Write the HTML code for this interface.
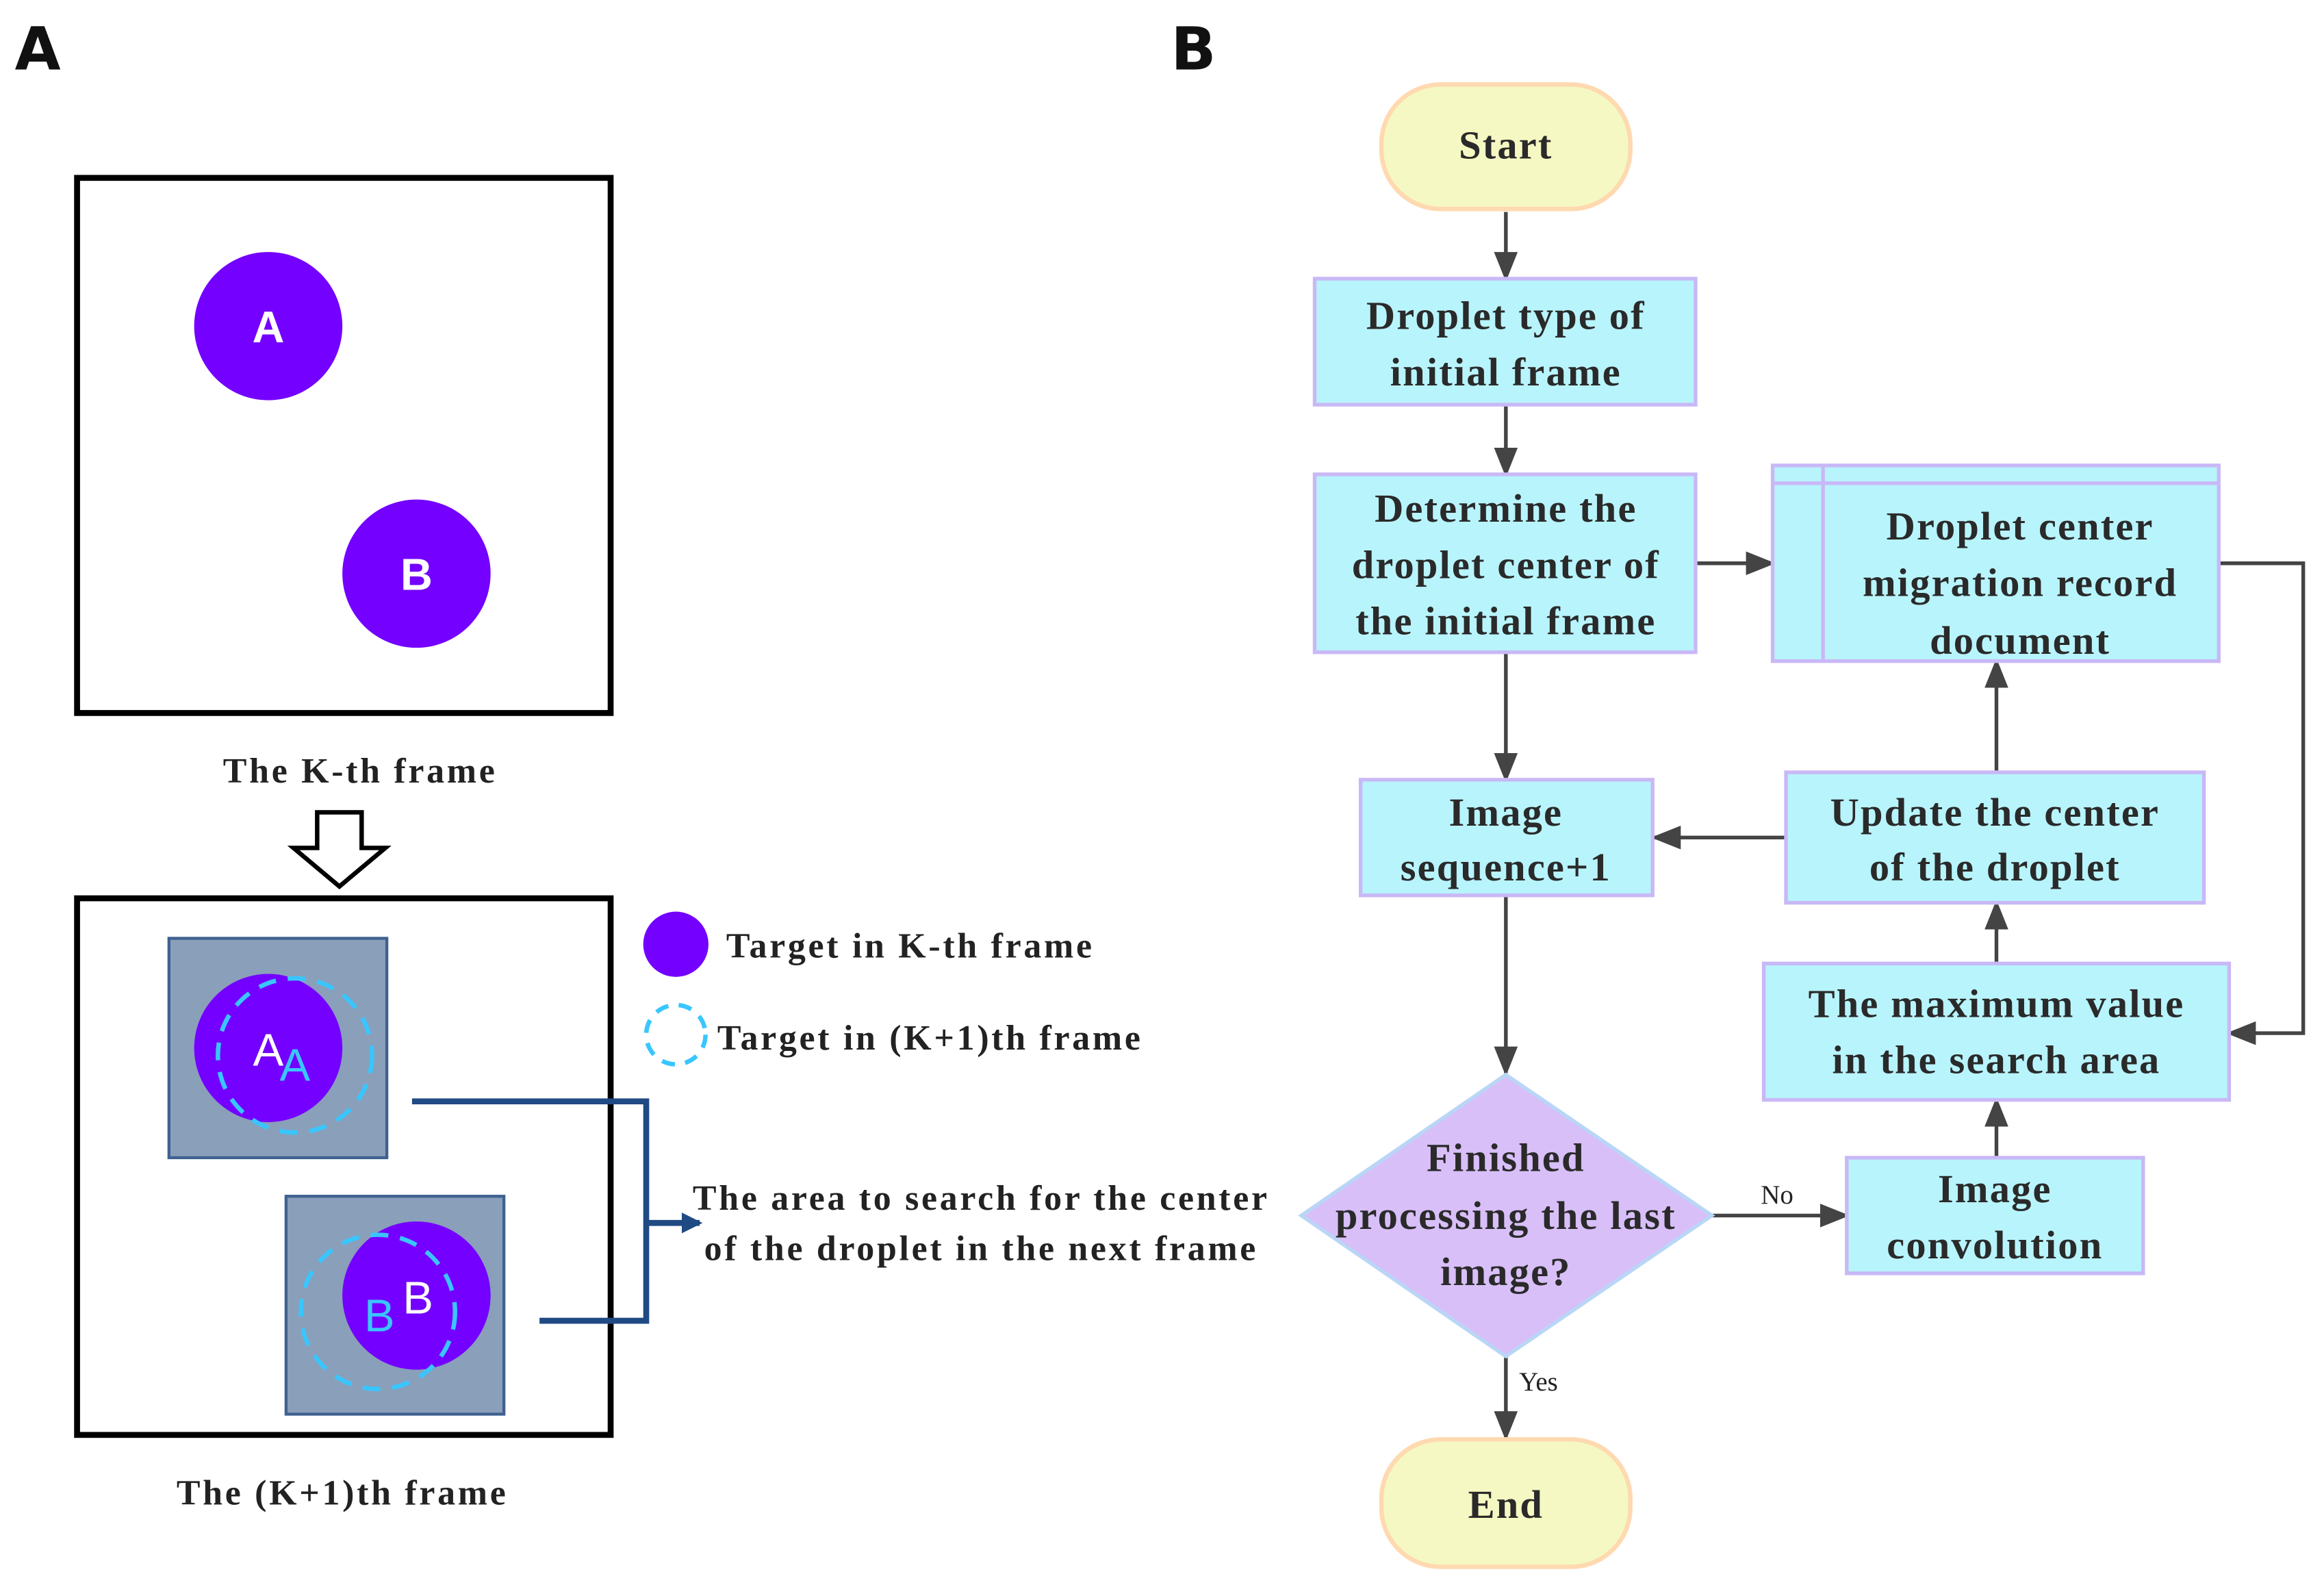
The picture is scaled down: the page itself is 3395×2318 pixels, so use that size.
<!DOCTYPE html>
<html><head><meta charset="utf-8"><style>
html,body{margin:0;padding:0;background:#fff;}
svg{display:block;}
.s{font-family:"Liberation Serif",serif;font-weight:bold;fill:#222;letter-spacing:1.7px;}
.f{font-family:"Liberation Serif",serif;font-weight:bold;fill:#2a2a2a;font-size:27px;letter-spacing:1px;}
.l{font-family:"Liberation Sans",sans-serif;font-weight:bold;}
.n{font-family:"Liberation Sans",sans-serif;}
</style></head><body>
<svg width="3395" height="2318" viewBox="0 0 1568 1070.6" preserveAspectRatio="none" xmlns="http://www.w3.org/2000/svg">
<defs>
<marker id="ah2" markerWidth="20" markerHeight="16" refX="18" refY="8" orient="auto" markerUnits="userSpaceOnUse"><path d="M0,0 L20,8 L0,16 z" fill="#444"/></marker>
<marker id="bh" markerWidth="14" markerHeight="14" refX="12" refY="7" orient="auto" markerUnits="userSpaceOnUse"><path d="M0,0 L14,7 L0,14 z" fill="#1f4a84"/></marker>
</defs>
<text x="10" y="47" font-family="DejaVu Sans,sans-serif" font-weight="bold" font-size="40" fill="#111">A</text>
<text x="790" y="47" font-family="DejaVu Sans,sans-serif" font-weight="bold" font-size="40" fill="#111">B</text>

<rect x="52" y="120" width="360" height="361" fill="none" stroke="#000" stroke-width="4"/>
<circle cx="181" cy="220" r="50" fill="#7400ff"/>
<circle cx="281" cy="387" r="50" fill="#7400ff"/>
<text x="181" y="231" class="l" font-size="30" fill="#fff" text-anchor="middle">A</text>
<text x="281" y="398" class="l" font-size="30" fill="#fff" text-anchor="middle">B</text>
<text x="243" y="528" class="s" font-size="24" text-anchor="middle">The K-th frame</text>
<path d="M214,548 H244 V572 H260 L229,598 L198,572 H214 Z" fill="#fff" stroke="#000" stroke-width="3"/>

<rect x="52" y="606" width="360" height="362" fill="none" stroke="#000" stroke-width="4"/>
<rect x="114" y="633" width="147" height="148" fill="#8a9fba" stroke="#3f6191" stroke-width="2"/>
<circle cx="181" cy="707" r="50" fill="#7400ff"/>
<circle cx="199" cy="712" r="52" fill="none" stroke="#39c6ff" stroke-width="3" stroke-dasharray="12,8"/>
<text x="181" y="719" class="n" font-size="31" fill="#fff" text-anchor="middle">A</text>
<text x="199" y="729" class="n" font-size="31" fill="#39c6ff" text-anchor="middle">A</text>
<rect x="193" y="807" width="147" height="147" fill="#8a9fba" stroke="#3f6191" stroke-width="2"/>
<circle cx="281" cy="874" r="50" fill="#7400ff"/>
<circle cx="255" cy="885" r="52" fill="none" stroke="#39c6ff" stroke-width="3" stroke-dasharray="12,8"/>
<text x="282" y="886" class="n" font-size="31" fill="#fff" text-anchor="middle">B</text>
<text x="256" y="898" class="n" font-size="31" fill="#39c6ff" text-anchor="middle">B</text>
<path d="M278,743 H436 V891 H364" fill="none" stroke="#1f4a84" stroke-width="4"/>
<line x1="436" y1="825" x2="472" y2="825" stroke="#1f4a84" stroke-width="4" marker-end="url(#bh)"/>
<text x="231" y="1015" class="s" font-size="24" text-anchor="middle">The (K+1)th frame</text>

<circle cx="456" cy="637" r="22" fill="#7400ff"/>
<text x="490" y="646" class="s" font-size="24">Target in K-th frame</text>
<circle cx="456" cy="698" r="20" fill="none" stroke="#39c6ff" stroke-width="3" stroke-dasharray="9,7"/>
<text x="484" y="708" class="s" font-size="24">Target in (K+1)th frame</text>
<text x="662" y="816" class="s" font-size="24" text-anchor="middle">The area to search for the center</text>
<text x="662" y="850" class="s" font-size="24" text-anchor="middle">of the droplet in the next frame</text>

<g stroke="#444" stroke-width="2.5" fill="none">
<line x1="1016" y1="143" x2="1016" y2="188" marker-end="url(#ah2)"/>
<line x1="1016" y1="273" x2="1016" y2="320" marker-end="url(#ah2)"/>
<line x1="1144" y1="380" x2="1196" y2="380" marker-end="url(#ah2)"/>
<line x1="1016" y1="440" x2="1016" y2="526" marker-end="url(#ah2)"/>
<line x1="1205" y1="565" x2="1116" y2="565" marker-end="url(#ah2)"/>
<line x1="1347" y1="521" x2="1347" y2="446" marker-end="url(#ah2)"/>
<line x1="1347" y1="650" x2="1347" y2="609" marker-end="url(#ah2)"/>
<line x1="1347" y1="781" x2="1347" y2="742" marker-end="url(#ah2)"/>
<line x1="1016" y1="604" x2="1016" y2="724" marker-end="url(#ah2)"/>
<line x1="1155" y1="820" x2="1246" y2="820" marker-end="url(#ah2)"/>
<line x1="1016" y1="915" x2="1016" y2="970" marker-end="url(#ah2)"/>
<path d="M1497,380 H1554 V697 H1504" marker-end="url(#ah2)"/>
</g>
<text x="1199" y="812" font-family="Liberation Serif,serif" font-size="18" fill="#222" text-anchor="middle">No</text>
<text x="1038" y="938" font-family="Liberation Serif,serif" font-size="18" fill="#222" text-anchor="middle">Yes</text>

<rect x="932" y="57" width="168" height="84" rx="40" fill="#f5f8c2" stroke="#ffd9b0" stroke-width="3"/>
<text x="1016" y="107" class="f" text-anchor="middle">Start</text>
<rect x="932" y="971" width="168" height="86" rx="40" fill="#f5f8c2" stroke="#ffd9b0" stroke-width="3"/>
<text x="1016" y="1024" class="f" text-anchor="middle">End</text>

<g fill="#b8f4fc" stroke="#c9b8f6" stroke-width="2.5">
<rect x="887" y="188" width="257" height="85"/>
<rect x="887" y="320" width="257" height="120"/>
<rect x="1196" y="314" width="301" height="132"/>
<rect x="918" y="526" width="197" height="78"/>
<rect x="1205" y="521" width="282" height="88"/>
<rect x="1190" y="650" width="314" height="92"/>
<rect x="1246" y="781" width="200" height="78"/>
</g>
<line x1="1196" y1="326" x2="1497" y2="326" stroke="#c9b8f6" stroke-width="2.5"/>
<line x1="1230" y1="314" x2="1230" y2="446" stroke="#c9b8f6" stroke-width="2.5"/>
<polygon points="1016,725 1155,820 1016,915 878,820" fill="#d8bff8" stroke="#b9d6f6" stroke-width="2.5"/>

<g class="f" text-anchor="middle">
<text x="1016" y="222">Droplet type of</text>
<text x="1016" y="260">initial frame</text>
<text x="1016" y="352">Determine the</text>
<text x="1016" y="390">droplet center of</text>
<text x="1016" y="428">the initial frame</text>
<text x="1363" y="364">Droplet center</text>
<text x="1363" y="402">migration record</text>
<text x="1363" y="441">document</text>
<text x="1016" y="557">Image</text>
<text x="1016" y="594">sequence+1</text>
<text x="1346" y="557">Update the center</text>
<text x="1346" y="594">of the droplet</text>
<text x="1347" y="686">The maximum value</text>
<text x="1347" y="724">in the search area</text>
<text x="1346" y="811">Image</text>
<text x="1346" y="849">convolution</text>
<text x="1016" y="790">Finished</text>
<text x="1016" y="829">processing the last</text>
<text x="1016" y="867">image?</text>
</g>
</svg>
</body></html>
